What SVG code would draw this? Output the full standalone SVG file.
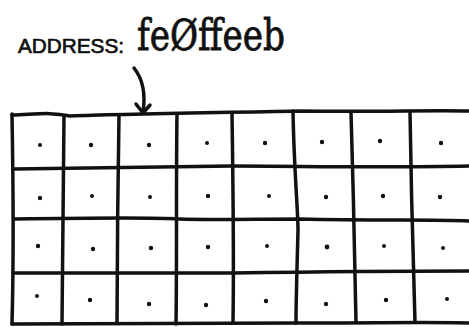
<svg xmlns="http://www.w3.org/2000/svg" width="469" height="327" viewBox="0 0 469 327">
<style>
.ln{fill:none;stroke:#111;stroke-width:3.5;stroke-linecap:round;stroke-linejoin:round}
.dot{fill:#111}
.lbl{fill:#111;stroke:#111}
</style>
<rect width="469" height="327" fill="#fff"/>
<g id="label">
<text class="lbl" x="18" y="53" font-family="'Liberation Sans',sans-serif" font-size="21" stroke-width="0.7" textLength="106" lengthAdjust="spacingAndGlyphs">ADDRESS:</text>
<text class="lbl" x="137" y="50" font-family="'DejaVu Serif',serif" font-size="43" stroke-width="0.8" textLength="148" lengthAdjust="spacingAndGlyphs">feØffeeb</text>
</g>
<g id="connectors">
<path class="ln" d="M134,68 C142,78 146,92 143,112"/>
<path class="ln" d="M136,104 L143,113 L150,105"/>
</g>
<g id="grid">
<path class="ln" d="M12,115 C40,114 50,112 70,116 C120,114 200,113 300,111 C380,112 430,110 469,111"/>
<path class="ln" d="M14,169 C80,168 150,167 232,166 C300,166 380,168 469,166"/>
<path class="ln" d="M14,219 C80,218 150,217 180,219 C200,220 260,219 300,219 C380,221 430,219 469,221"/>
<path class="ln" d="M14,273 C80,273 150,273 232,273 C300,272 380,271 469,271"/>
<path class="ln" d="M12,324 C100,324 200,324 300,323 C380,323 430,322 469,323"/>
<path class="ln" d="M12,114 C13,170 14,250 12,324"/>
<path class="ln" d="M64,116 C64,180 63,250 62,324"/>
<path class="ln" d="M119,115 C118,180 117,260 117,323"/>
<path class="ln" d="M177,114 C176,180 177,260 176,324"/>
<path class="ln" d="M232,113 C233,180 234,260 233,323"/>
<path class="ln" d="M293,111 C294,170 298,210 298,230 C297,270 296,300 296,323"/>
<path class="ln" d="M351,112 C353,180 355,260 356,322"/>
<path class="ln" d="M410,112 C411,180 413,260 415,322"/>
</g>
<g id="cells">
<circle class="dot" cx="40" cy="145" r="2"/>
<circle class="dot" cx="91" cy="145" r="2.2"/>
<circle class="dot" cx="149" cy="145" r="2.2"/>
<circle class="dot" cx="207" cy="143" r="2"/>
<circle class="dot" cx="265" cy="143" r="2.2"/>
<circle class="dot" cx="322" cy="142" r="2.2"/>
<circle class="dot" cx="380" cy="141" r="2.2"/>
<circle class="dot" cx="441" cy="143" r="2.2"/>
<circle class="dot" cx="40" cy="198" r="2.2"/>
<circle class="dot" cx="92" cy="196" r="2"/>
<circle class="dot" cx="150" cy="197" r="2"/>
<circle class="dot" cx="208" cy="196" r="2.2"/>
<circle class="dot" cx="269" cy="196" r="2"/>
<circle class="dot" cx="326" cy="197" r="2.2"/>
<circle class="dot" cx="383" cy="196" r="2.2"/>
<circle class="dot" cx="440" cy="197" r="2.2"/>
<circle class="dot" cx="38" cy="246" r="2.2"/>
<circle class="dot" cx="93" cy="249" r="2.2"/>
<circle class="dot" cx="151" cy="248" r="2.2"/>
<circle class="dot" cx="208" cy="247" r="2.2"/>
<circle class="dot" cx="267" cy="246" r="2"/>
<circle class="dot" cx="327" cy="247" r="2.4"/>
<circle class="dot" cx="384" cy="246" r="2"/>
<circle class="dot" cx="443" cy="248" r="2"/>
<circle class="dot" cx="37" cy="296" r="2"/>
<circle class="dot" cx="90" cy="300" r="2.2"/>
<circle class="dot" cx="149" cy="304" r="2.2"/>
<circle class="dot" cx="206" cy="305" r="2.2"/>
<circle class="dot" cx="266" cy="301" r="2.2"/>
<circle class="dot" cx="326" cy="304" r="2.2"/>
<circle class="dot" cx="386" cy="300" r="2.2"/>
<circle class="dot" cx="447" cy="299" r="2"/>
</g>
</svg>
